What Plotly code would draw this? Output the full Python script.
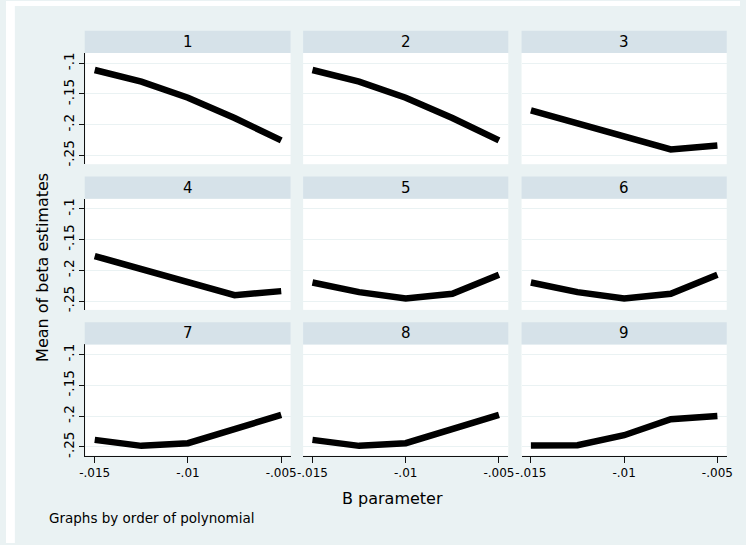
import plotly.graph_objects as go

# ---- data ----
b_param = [-0.015, -0.0125, -0.01, -0.0075, -0.005]
order_1 = [-0.111, -0.130, -0.156, -0.189, -0.2255]
order_2 = [-0.111, -0.130, -0.156, -0.189, -0.2255]
order_3 = [-0.1766, -0.198, -0.2196, -0.2402, -0.2337]
order_4 = [-0.1766, -0.198, -0.2196, -0.2402, -0.2337]
order_5 = [-0.2196, -0.2353, -0.2457, -0.2380, -0.2071]
order_6 = [-0.2196, -0.2353, -0.2457, -0.2380, -0.2071]
order_7 = [-0.2387, -0.2484, -0.2441, -0.2213, -0.198]
order_8 = [-0.2387, -0.2484, -0.2441, -0.2213, -0.198]
order_9 = [-0.2479, -0.2473, -0.2311, -0.2051, -0.1997]
panel_labels = ["1", "2", "3", "4", "5", "6", "7", "8", "9"]
y_tickvals = [-0.25, -0.2, -0.15, -0.1]
y_ticktext = ["-.25", "-.2", "-.15", "-.1"]
x_tickvals = [-0.015, -0.01, -0.005]
x_ticktext = ["-.015", "-.01", "-.005"]

series = [order_1, order_2, order_3, order_4, order_5, order_6, order_7, order_8, order_9]

# ---- layout geometry (pixels) ----
W, H = 746, 545
BG = "#EAF2F3"
STRIP = "#D6E2E9"
FONT = "DejaVu Sans"
col_x0 = [80.7, 302.0, 524.0]
plot_w = 208.5
row_top = [52.3, 198.8, 345.3]
plot_h = 111.8
strip_h = 22.3

def px_x(p):
    return p / W

def px_y(p):
    return 1 - p / H

fig = go.Figure()
layout = dict(
    width=W, height=H,
    margin=dict(l=0, r=0, t=0, b=0),
    paper_bgcolor=BG, plot_bgcolor="white",
    showlegend=False,
    font=dict(family=FONT, color="black"),
)
shapes = []
annotations = []

for i in range(9):
    r, c = divmod(i, 3)
    ax = "" if i == 0 else str(i + 1)
    fig.add_trace(go.Scatter(
        x=b_param, y=series[i], mode="lines",
        line=dict(color="black", width=6.5),
        xaxis="x" + ax, yaxis="y" + ax, hoverinfo="skip",
    ))
    x0 = col_x0[c]
    x1 = x0 + plot_w
    y0 = row_top[r]
    y1 = y0 + plot_h
    layout["xaxis" + ax] = dict(
        domain=[px_x(x0), px_x(x1)], range=[-0.0155, -0.0045],
        anchor="y" + ax, showgrid=False, zeroline=False,
        showline=(r == 2), linecolor="#111", linewidth=1,
        ticks="outside" if r == 2 else "", ticklen=6, tickcolor="#111",
        showticklabels=(r == 2), tickvals=x_tickvals, ticktext=x_ticktext,
        tickfont=dict(size=12, family=FONT, color="black"),
        fixedrange=True,
    )
    layout["yaxis" + ax] = dict(
        domain=[px_y(y1), px_y(y0)], range=[-0.26424, -0.08333],
        anchor="x" + ax, showgrid=True, gridcolor=BG, gridwidth=1,
        zeroline=False,
        showline=(c == 0), linecolor="#111", linewidth=1,
        ticks="outside" if c == 0 else "", ticklen=5, tickcolor="#111",
        showticklabels=(c == 0), tickvals=y_tickvals, ticktext=y_ticktext,
        tickangle=-90, tickfont=dict(size=13.5, family=FONT, color="black"),
        fixedrange=True,
    )
    # strip
    shapes.append(dict(
        type="rect", xref="paper", yref="paper",
        x0=px_x(x0 - 0.7 if c == 0 else x0), x1=px_x(x1),
        y0=px_y(y0), y1=px_y(y0 - strip_h),
        fillcolor=STRIP, line=dict(width=0),
    ))
    annotations.append(dict(
        text=panel_labels[i], xref="paper", yref="paper",
        x=px_x((x0 + x1) / 2), y=px_y(y0 - strip_h / 2),
        xanchor="center", yanchor="middle", showarrow=False,
        font=dict(size=15, family=FONT, color="black"),
    ))

# white outer edges (outside the graph region)
shapes.append(dict(type="rect", xref="paper", yref="paper", x0=0, x1=px_x(9),
                   y0=0, y1=1, fillcolor="white", line=dict(width=0)))
shapes.append(dict(type="rect", xref="paper", yref="paper", x0=0, x1=1,
                   y0=px_y(5), y1=1, fillcolor="white", line=dict(width=0)))

annotations.append(dict(
    text="Mean of beta estimates", xref="paper", yref="paper",
    x=px_x(37), y=px_y(268), textangle=-90,
    xanchor="center", yanchor="middle", showarrow=False,
    font=dict(size=16, family=FONT, color="black"),
))
annotations.append(dict(
    text="B parameter", xref="paper", yref="paper",
    x=px_x(393), y=px_y(500),
    xanchor="center", yanchor="middle", showarrow=False,
    font=dict(size=16, family=FONT, color="black"),
))
annotations.append(dict(
    text="Graphs by order of polynomial", xref="paper", yref="paper",
    x=px_x(42), y=px_y(520),
    xanchor="left", yanchor="middle", showarrow=False,
    font=dict(size=13.5, family=FONT, color="black"),
))

layout["shapes"] = shapes
layout["annotations"] = annotations
fig.update_layout(**layout)
fig.write_html(
    "out.html",
    config={"displayModeBar": False},
    post_script="document.body.style.margin='0';document.body.style.overflow='hidden';",
)
